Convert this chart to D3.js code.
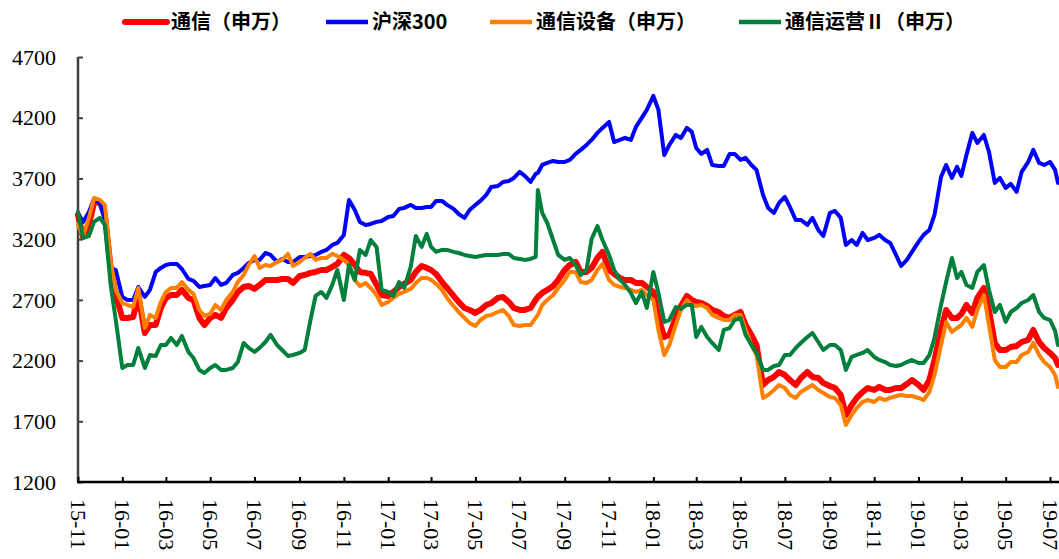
<!DOCTYPE html>
<html>
<head>
<meta charset="utf-8">
<script src="https://cdn.jsdelivr.net/npm/d3@7"></script>
<style>
  html, body { margin: 0; padding: 0; background: #fff; }
  svg { display: block; }
</style>
</head>
<body>
<div id="chart"></div>
<script>
// sample dates (4 a month, one extra on 2017-07-26 for the spike)
var dates = [
  "2015-11-01","2015-11-08","2015-11-16","2015-11-23",
  "2015-12-01","2015-12-08","2015-12-16","2015-12-23",
  "2016-01-01","2016-01-08","2016-01-16","2016-01-23",
  "2016-02-01","2016-02-08","2016-02-16","2016-02-23",
  "2016-03-01","2016-03-08","2016-03-16","2016-03-23",
  "2016-04-01","2016-04-08","2016-04-16","2016-04-23",
  "2016-05-01","2016-05-08","2016-05-16","2016-05-23",
  "2016-06-01","2016-06-08","2016-06-16","2016-06-23",
  "2016-07-01","2016-07-08","2016-07-16","2016-07-23",
  "2016-08-01","2016-08-08","2016-08-16","2016-08-23",
  "2016-09-01","2016-09-08","2016-09-16","2016-09-23",
  "2016-10-01","2016-10-08","2016-10-16","2016-10-23",
  "2016-11-01","2016-11-08","2016-11-16","2016-11-23",
  "2016-12-01","2016-12-08","2016-12-16","2016-12-23",
  "2017-01-01","2017-01-08","2017-01-16","2017-01-23",
  "2017-02-01","2017-02-08","2017-02-16","2017-02-23",
  "2017-03-01","2017-03-08","2017-03-16","2017-03-23",
  "2017-04-01","2017-04-08","2017-04-16","2017-04-23",
  "2017-05-01","2017-05-08","2017-05-16","2017-05-23",
  "2017-06-01","2017-06-08","2017-06-16","2017-06-23",
  "2017-07-01","2017-07-08","2017-07-16","2017-07-23","2017-07-26",
  "2017-08-01","2017-08-08","2017-08-16","2017-08-23",
  "2017-09-01","2017-09-08","2017-09-16","2017-09-23",
  "2017-10-01","2017-10-08","2017-10-16","2017-10-23",
  "2017-11-01","2017-11-08","2017-11-16","2017-11-23",
  "2017-12-01","2017-12-08","2017-12-16","2017-12-23",
  "2018-01-01","2018-01-08","2018-01-16","2018-01-23",
  "2018-02-01","2018-02-08","2018-02-16","2018-02-23",
  "2018-03-01","2018-03-08","2018-03-16","2018-03-23",
  "2018-04-01","2018-04-08","2018-04-16","2018-04-23",
  "2018-05-01","2018-05-08","2018-05-16","2018-05-23",
  "2018-06-01","2018-06-08","2018-06-16","2018-06-23",
  "2018-07-01","2018-07-08","2018-07-16","2018-07-23",
  "2018-08-01","2018-08-08","2018-08-16","2018-08-23",
  "2018-09-01","2018-09-08","2018-09-16","2018-09-23",
  "2018-10-01","2018-10-08","2018-10-16","2018-10-23",
  "2018-11-01","2018-11-08","2018-11-16","2018-11-23",
  "2018-12-01","2018-12-08","2018-12-16","2018-12-23",
  "2019-01-01","2019-01-08","2019-01-16","2019-01-23",
  "2019-02-01","2019-02-08","2019-02-16","2019-02-23",
  "2019-03-01","2019-03-08","2019-03-16","2019-03-23",
  "2019-04-01","2019-04-08","2019-04-16","2019-04-23",
  "2019-05-01","2019-05-08","2019-05-16","2019-05-23",
  "2019-06-01","2019-06-08","2019-06-16","2019-06-23",
  "2019-07-01","2019-07-08","2019-07-12"
];

// 通信(申万)
var tongxin = [
  3399,3218,3317,3498, 3506,3399,2963,2740,
  2551,2551,2559,2740, 2427,2493,2493,2633, 2716,2740,2740,2782, 2716,2699,2551,2493,
  2551,2576,2551,2633, 2699,2765,2806,2814, 2790,2823,2864,2864, 2864,2872,2872,2839,
  2897,2905,2922,2930, 2946,2946,2971,2996, 3070,3045,2987,2930, 2922,2913,2823,2740,
  2732,2765,2806,2831, 2864,2930,2979,2963, 2946,2913,2847,2798, 2732,2683,2633,2617,
  2592,2617,2658,2674, 2716,2724,2683,2633, 2617,2617,2633,2699,2724, 2757,2782,2814,2864,
  2946,2987,3012,2930, 2930,2963,3045,3095, 2946,2913,2880,2864, 2864,2839,2839,2806,
  2765,2551,2394,2411, 2551,2650,2732,2699, 2683,2674,2650,2617, 2600,2567,2551,2576,
  2600,2493,2411,2328, 1999,2040,2065,2106, 2081,2040,1999,2057, 2106,2065,2057,2015,
  1991,1974,1917,1752, 1834,1892,1941,1974, 1958,1983,1958,1958, 1974,1974,2007,2040,
  1999,1958,2040,2205, 2452,2617,2551,2551, 2584,2658,2592,2716, 2798,2617,2345,2287,
  2287,2312,2320,2353, 2370,2452,2353,2304, 2263,2221,2164
];

// 沪深300
var hs300 = [
  3416,3342,3424,3531, 3498,3358,2963,2946,
  2724,2699,2699,2806, 2724,2782,2930,2963, 2987,2996,2996,2954, 2872,2856,2806,2814,
  2823,2880,2823,2839, 2905,2922,2963,3004, 3029,3029,3086,3070, 3012,3037,3012,3012,
  3053,3053,3061,3070, 3095,3111,3152,3169, 3235,3523,3440,3342, 3317,3325,3342,3350,
  3383,3391,3449,3457, 3482,3457,3457,3465, 3465,3515,3515,3482, 3449,3407,3375,3440,
  3482,3515,3564,3630, 3638,3671,3679,3704, 3754,3721,3671,3737,3745, 3811,3828,3844,3836,
  3836,3852,3902,3935, 3976,4017,4075,4116, 4165,4000,4017,4033, 4017,4124,4198,4264,
  4380,4264,3893,3976, 4058,4033,4116,4083, 3951,3902,3935,3811, 3803,3803,3902,3902,
  3852,3869,3811,3770, 3564,3457,3416,3498, 3548,3465,3358,3358, 3317,3375,3276,3226,
  3416,3432,3375,3152, 3193,3152,3251,3193, 3210,3235,3193,3169, 3070,2979,3029,3095,
  3177,3235,3276,3399, 3712,3811,3704,3795, 3721,3893,4075,3992, 4058,3918,3663,3704,
  3622,3655,3589,3754, 3836,3935,3828,3811, 3836,3770,3663
];

// 通信设备(申万)
var shebei = [
  3317,3226,3375,3539, 3523,3482,3012,2782,
  2674,2658,2641,2798, 2468,2576,2551,2683, 2765,2798,2798,2847, 2782,2749,2617,2567,
  2584,2658,2617,2699, 2765,2847,2905,2987, 3061,2963,2987,2979, 3012,3029,3078,2979,
  3012,3045,3078,3029, 3045,3045,3078,3061, 3029,2987,2864,2814, 2839,2798,2740,2658,
  2683,2716,2749,2765, 2790,2839,2880,2880, 2864,2831,2782,2716, 2650,2600,2551,2510,
  2485,2534,2567,2576, 2600,2617,2567,2493, 2485,2493,2493,2551,2576, 2658,2699,2740,2798,
  2864,2930,2930,2847, 2839,2864,2946,2996, 2864,2823,2806,2798, 2782,2765,2782,2740,
  2699,2452,2246,2328, 2493,2617,2699,2658, 2650,2658,2633,2576, 2551,2534,2534,2576,
  2576,2452,2328,2246, 1892,1917,1958,1999, 1974,1917,1892,1941, 1974,1999,1958,1933,
  1900,1892,1834,1670, 1752,1810,1859,1875, 1859,1892,1875,1892, 1908,1917,1908,1908,
  1892,1875,1941,2081, 2328,2518,2436,2468, 2493,2551,2477,2617, 2740,2493,2205,2147,
  2147,2188,2188,2246, 2271,2345,2246,2188, 2147,2081,1983
];

// 通信运营II(申万)
var yunying = [
  3424,3210,3226,3342, 3375,3317,2823,2534,
  2139,2164,2164,2304, 2139,2246,2238,2328, 2328,2386,2328,2403, 2271,2221,2123,2098,
  2139,2164,2123,2123, 2139,2188,2345,2304, 2271,2304,2353,2411, 2328,2287,2238,2246,
  2263,2287,2534,2732, 2765,2716,2823,2946, 2699,2987,2864,3111, 3070,3193,3136,2782,
  2765,2732,2847,2798, 2971,3226,3136,3243, 3136,3095,3111,3111, 3095,3086,3070,3061,
  3053,3061,3070,3070, 3070,3078,3078,3045, 3037,3029,3037,3053,3605, 3416,3333,3193,3070,
  3029,3045,2987,2905, 2946,3201,3308,3193, 3070,2946,2864,2823, 2757,2674,2765,2633,
  2930,2757,2518,2534, 2641,2625,2658,2658, 2394,2477,2394,2345, 2287,2452,2468,2534,
  2551,2411,2328,2263, 2123,2123,2155,2164, 2246,2246,2304,2345, 2394,2427,2353,2287,
  2328,2328,2287,2123, 2230,2246,2263,2287, 2230,2205,2188,2164, 2155,2164,2188,2205,
  2180,2180,2246,2386, 2658,2847,3045,2880, 2930,2823,2798,2930, 2987,2782,2600,2658,
  2518,2600,2633,2674, 2699,2740,2600,2551, 2534,2444,2328
];

var seriesNames = ["通信（申万）", "沪深300", "通信设备（申万）", "通信运营Ⅱ（申万）"];
var seriesColors = ["#ff0000", "#0000ff", "#ff8000", "#00803c"];
var seriesWidths = [6, 4, 4, 4];
var seriesValues = [tongxin, hs300, shebei, yunying];

var yTicks = [1200, 1700, 2200, 2700, 3200, 3700, 4200, 4700];
var xTickLabels = ["15-11","16-01","16-03","16-05","16-07","16-09","16-11","17-01","17-03","17-05","17-07","17-09",
                   "17-11","18-01","18-03","18-05","18-07","18-09","18-11","19-01","19-03","19-05","19-07"];

var width = 1059,
    height = 559;

var parse = d3.timeParse("%Y-%m-%d");
var tickParse = d3.timeParse("%y-%m");

var svg = d3.select("#chart").append("svg")
    .attr("width", width)
    .attr("height", height)
    .style("background", "#fff");

var xScale = d3.scaleTime()
    .domain([parse("2015-11-01"), parse("2019-07-01")])
    .range([78, 1050]);

var yScale = d3.scaleLinear()
    .domain([1200, 4700])
    .range([482, 57]);

var numFont = "'Liberation Serif', 'Times New Roman', serif";
var cjkFont = "'Noto Sans CJK SC', sans-serif";

// y axis
var yAxis = d3.axisRight(yScale).tickValues(yTicks).tickSize(5).tickFormat("");
var gy = svg.append("g").attr("transform", "translate(78,0)").call(yAxis);
gy.select(".domain").attr("stroke", "#404040").attr("stroke-width", 2.5).attr("d", "M0,57V482");
gy.selectAll(".tick line").attr("stroke", "#404040").attr("stroke-width", 2);

svg.append("g").selectAll("text")
    .data(yTicks)
    .enter().append("text")
    .attr("x", 56)
    .attr("y", (d) => yScale(d))
    .attr("dy", "0.35em")
    .attr("text-anchor", "end")
    .style("font-family", numFont)
    .style("font-size", "22px")
    .attr("fill", "#000")
    .text((d) => d);

// x axis
var xTicks = xTickLabels.map((s) => tickParse(s));
var xAxis = d3.axisTop(xScale).tickValues(xTicks).tickSize(5).tickFormat("");
var gx = svg.append("g").attr("transform", "translate(0,482)").call(xAxis);
gx.select(".domain").attr("stroke", "#000").attr("stroke-width", 2.5).attr("d", "M77,0H1059");
gx.selectAll(".tick line").attr("stroke", "#000").attr("stroke-width", 2);

svg.append("g").selectAll("text")
    .data(xTickLabels)
    .enter().append("text")
    .attr("transform", (d) => "translate(" + xScale(tickParse(d)) + ",499) rotate(90)")
    .attr("dy", "0.33em")
    .attr("text-anchor", "start")
    .style("font-family", numFont)
    .style("font-size", "22px")
    .attr("fill", "#000")
    .text((d) => d);

// lines, drawn in legend order
var line = d3.line()
    .x((d) => xScale(d.date))
    .y((d) => yScale(d.v));

var parsedDates = dates.map(parse);

seriesValues.forEach(function(vals, i){
    var pts = vals.map((v, j) => ({date: parsedDates[j], v: v}));
    svg.append("path")
        .datum(pts)
        .attr("fill", "none")
        .attr("stroke", seriesColors[i])
        .attr("stroke-width", seriesWidths[i])
        .attr("stroke-linejoin", "round")
        .attr("stroke-linecap", "round")
        .attr("d", line);
});

// legend
var legendX = [125, 326, 490, 739];
var legend = svg.append("g").selectAll("g")
    .data(seriesNames)
    .enter().append("g")
    .attr("transform", (d, i) => "translate(" + legendX[i] + ",22)");

legend.append("line")
    .attr("x1", 0).attr("x2", 42)
    .attr("stroke", (d, i) => seriesColors[i])
    .attr("stroke-width", (d, i) => i === 0 ? 6 : 4.5)
    .attr("stroke-linecap", (d, i) => i === 0 ? "round" : "butt");

legend.append("text")
    .attr("x", 46)
    .attr("dy", "0.36em")
    .style("font-family", cjkFont)
    .style("font-weight", "bold")
    .style("font-size", "20px")
    .attr("fill", "#000")
    .text((d) => d);
</script>
</body>
</html>
